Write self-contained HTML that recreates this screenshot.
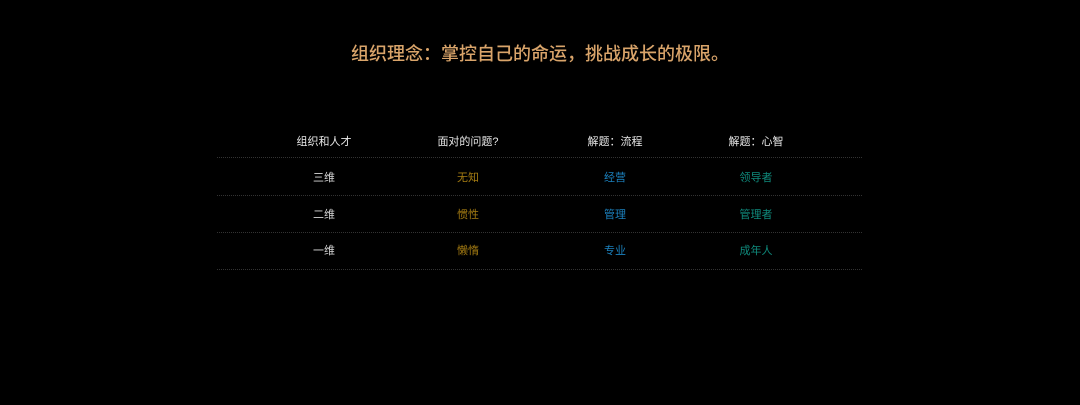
<!DOCTYPE html>
<html><head><meta charset="utf-8"><style>
body{margin:0;width:1080px;height:405px;background:#000;overflow:hidden;font-family:"Liberation Sans","Noto Sans CJK SC",sans-serif;position:relative}
.t{position:absolute;left:0;width:1080px;top:42px;text-align:center;color:#d9a46a;font-size:18px;line-height:24px;font-weight:500}
.c{position:absolute;width:140px;margin-left:-70px;text-align:center;font-size:11px;line-height:14px}
.l{position:absolute;left:217px;width:645px;border-top:1px dotted #333;height:0}
.h{color:#e8e8e8}.w{color:#d8d8d8}.g{color:#a57c12}.b{color:#1b80bd}.tl{color:#0f8a7c}
</style></head><body>
<div class="t">组织理念：掌控自己的命运，挑战成长的极限。</div>
<div class="c h" style="left:324px;top:135px">组织和人才</div>
<div class="c h" style="left:468px;top:135px">面对的问题?</div>
<div class="c h" style="left:615px;top:135px">解题：流程</div>
<div class="c h" style="left:756px;top:135px">解题：心智</div>
<div class="l" style="top:157px"></div>
<div class="c w" style="left:324px;top:171px">三维</div>
<div class="c g" style="left:468px;top:171px">无知</div>
<div class="c b" style="left:615px;top:171px">经营</div>
<div class="c tl" style="left:756px;top:171px">领导者</div>
<div class="l" style="top:195px"></div>
<div class="c w" style="left:324px;top:208px">二维</div>
<div class="c g" style="left:468px;top:208px">惯性</div>
<div class="c b" style="left:615px;top:208px">管理</div>
<div class="c tl" style="left:756px;top:208px">管理者</div>
<div class="l" style="top:232px"></div>
<div class="c w" style="left:324px;top:244px">一维</div>
<div class="c g" style="left:468px;top:244px">懒惰</div>
<div class="c b" style="left:615px;top:244px">专业</div>
<div class="c tl" style="left:756px;top:244px">成年人</div>
<div class="l" style="top:269px"></div>
</body></html>
